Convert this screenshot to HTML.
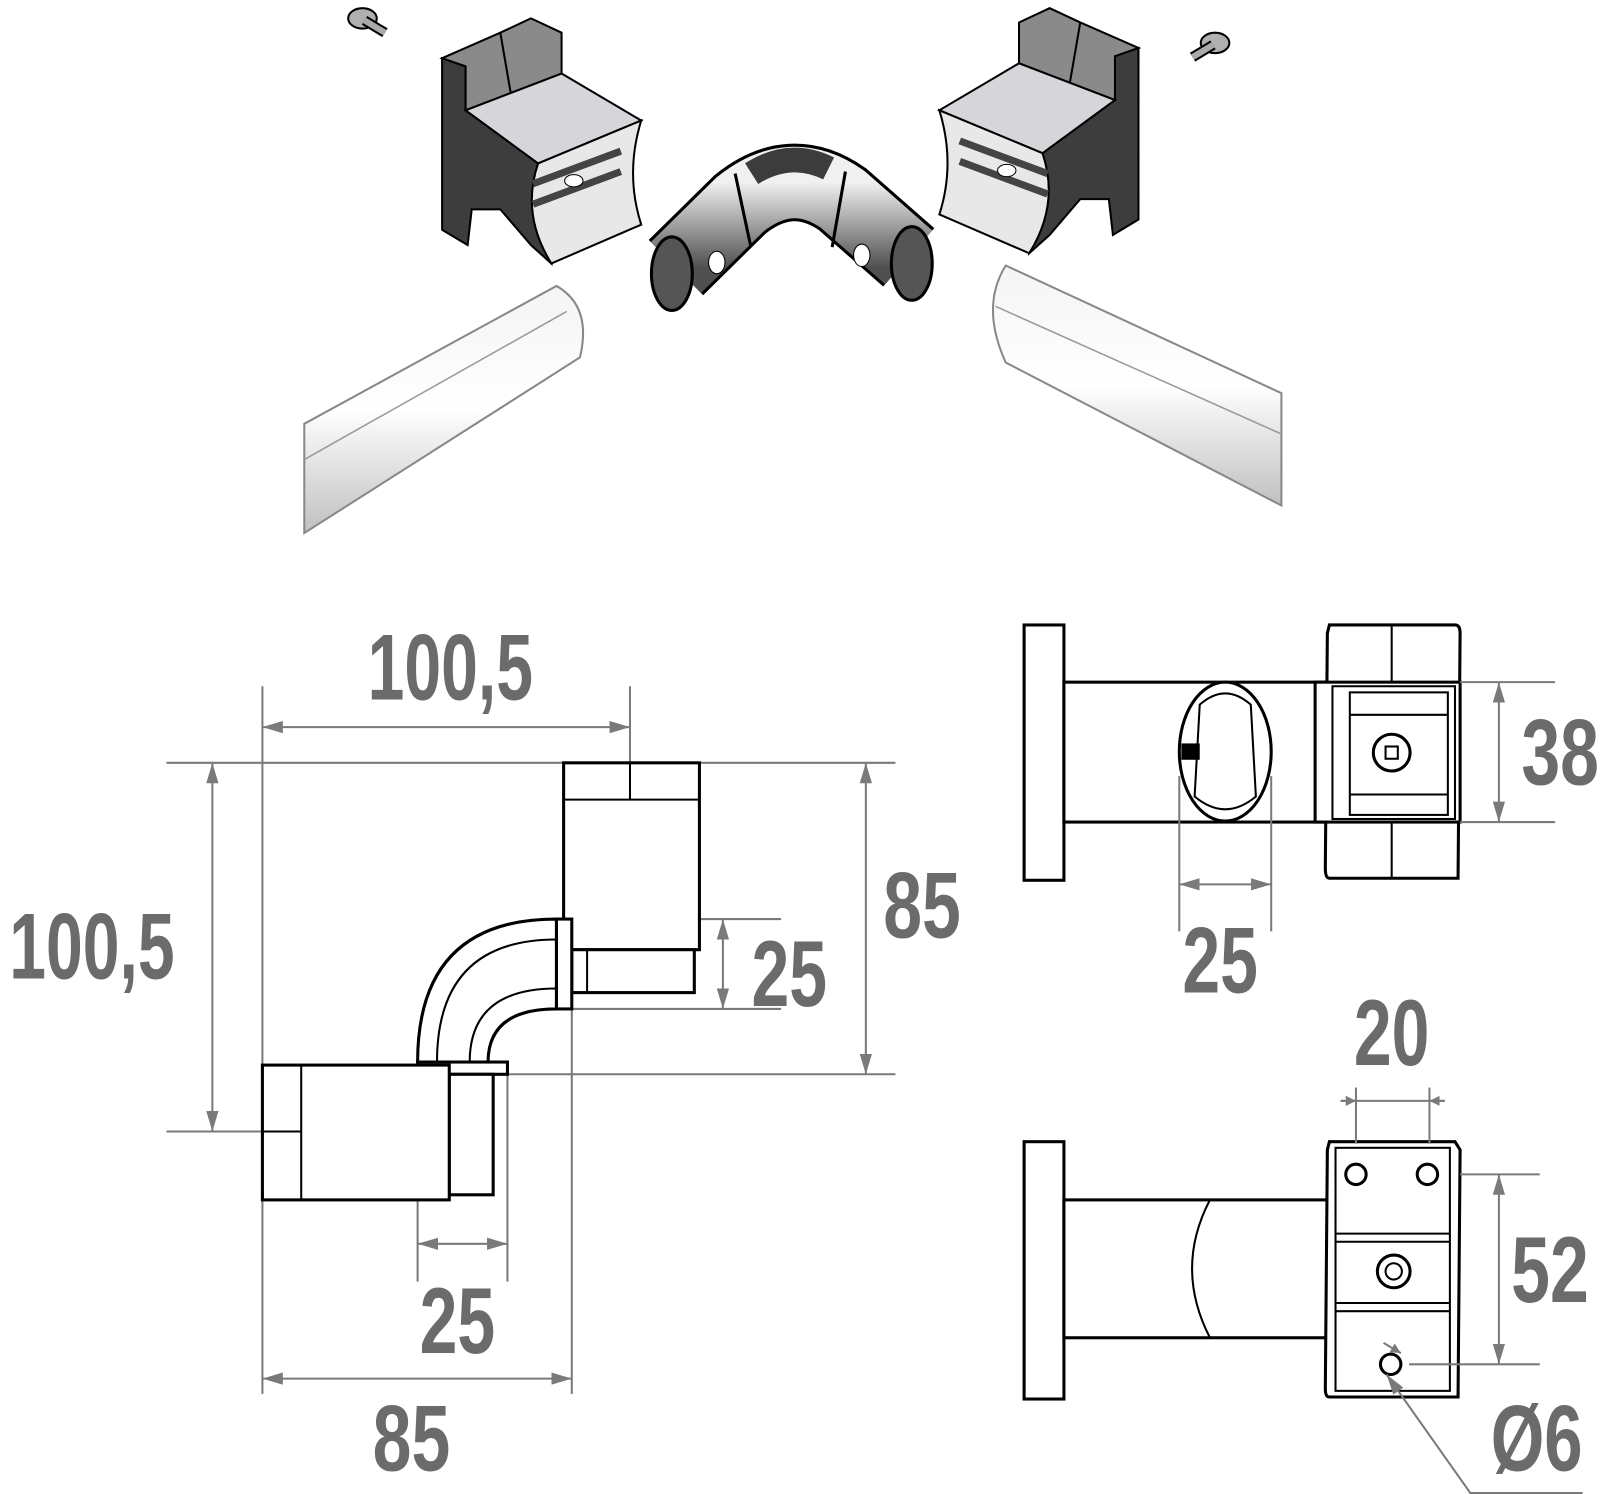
<!DOCTYPE html>
<html><head><meta charset="utf-8">
<style>html,body{margin:0;padding:0;background:#fff}svg{display:block}
.d{font-family:"Liberation Sans Narrow","Liberation Sans",sans-serif;font-weight:bold;fill:#6b6b6b;font-size:92px}
.dim{stroke:#7a7a7a;stroke-width:2;fill:none}
.k{stroke:#000;stroke-width:3;fill:#fff}
.k2{stroke:#000;stroke-width:2;fill:none}
</style></head><body>
<svg width="1601" height="1494" viewBox="0 0 1568 1463" preserveAspectRatio="none" xmlns="http://www.w3.org/2000/svg">
<defs>
<linearGradient id="tg" x1="0" y1="0" x2="0" y2="1"><stop offset="0" stop-color="#f4f4f4"/><stop offset="0.5" stop-color="#ffffff"/><stop offset="1" stop-color="#c0c0c0"/></linearGradient>
<linearGradient id="mg" x1="0" y1="0" x2="0" y2="1"><stop offset="0" stop-color="#f0f0f0"/><stop offset="1" stop-color="#505050"/></linearGradient>
<marker id="a" viewBox="0 0 10 10" refX="10" refY="5" markerWidth="10" markerHeight="10" orient="auto-start-reverse" markerUnits="userSpaceOnUse"><path d="M0,0 L10,5 L0,10z" fill="#7a7a7a"/></marker>
<marker id="b" viewBox="0 0 20 12" refX="20" refY="6" markerWidth="20" markerHeight="12" orient="auto-start-reverse" markerUnits="userSpaceOnUse"><path d="M0,0 L20,6 L0,12z" fill="#7a7a7a"/></marker>
<g id="br">
<polygon points="433,57 456,65 456,108 527,160 540,258 520,240 490,205 462,205 458,240 433,225" fill="#3d3d3d" stroke="#000" stroke-width="2"/>
<polygon points="433,57 490,32 520,18 550,32 550,72 456,108 456,65" fill="#8a8a8a" stroke="#000" stroke-width="2"/>
<line x1="490" y1="32" x2="500" y2="90" stroke="#000" stroke-width="2"/>
<polygon points="456,108 550,72 628,118 527,160" fill="#d6d6da" stroke="#000" stroke-width="2"/>
<path d="M527,160 L628,118 Q612,170 628,220 L540,258 Q510,210 527,160z" fill="#e8e8e8" stroke="#000" stroke-width="2"/>
<path d="M522,180 L608,148 M522,200 L608,168" stroke="#444" stroke-width="7"/>
<ellipse cx="562" cy="177" rx="9" ry="6" fill="#fff" stroke="#000"/>
</g>
<g id="sc"><ellipse cx="0" cy="0" rx="14" ry="10" fill="#b0b0b0" stroke="#000" stroke-width="2"/><path d="M2,2 L22,14" stroke="#000" stroke-width="10"/><path d="M2,2 L22,14" stroke="#aaa" stroke-width="6"/></g>
</defs>
<rect width="1568" height="1463" fill="#fff"/>
<use href="#br"/>
<use href="#br" transform="translate(1548,-10) scale(-1,1)"/>
<use href="#sc" transform="translate(355,18)"/>
<use href="#sc" transform="translate(1190,42) scale(-1,1)"/>
<!-- elbow -->
<path d="M662,262 L725,200 Q775,160 825,195 L890,252" stroke="#000" stroke-width="76" fill="none"/>
<path d="M662,262 L725,200 Q775,160 825,195 L890,252" stroke="url(#mg)" stroke-width="70" fill="none"/>
<path d="M662,262 L725,200 Q775,160 825,195 L890,252" pathLength="100" stroke-dasharray="0 36 28 100" stroke="#3c3c3c" stroke-width="24" fill="none" transform="translate(0,-22)"/>
<path d="M720,170 L735,240 M828,168 L815,242" stroke="#000" stroke-width="3"/>
<ellipse cx="658" cy="268" rx="20" ry="36" fill="#555" stroke="#000" stroke-width="3"/>
<ellipse cx="893" cy="258" rx="20" ry="36" fill="#555" stroke="#000" stroke-width="3"/>
<ellipse cx="702" cy="257" rx="8" ry="11" fill="#fff" stroke="#000"/>
<ellipse cx="844" cy="250" rx="8" ry="11" fill="#fff" stroke="#000"/>
<!-- tubes -->
<path d="M298,415 L545,280 Q580,300 568,350 L298,522z" fill="url(#tg)" stroke="#888" stroke-width="2"/>
<path d="M298,450 L555,305" stroke="#999" stroke-width="1.5"/>
<path d="M985,260 L1255,385 L1255,495 L985,355 Q960,300 985,260z" fill="url(#tg)" stroke="#888" stroke-width="2"/>
<path d="M975,300 L1255,425" stroke="#999" stroke-width="1.5"/>

<!-- bottom-left drawing -->
<g class="dim">
<line x1="257" y1="672" x2="257" y2="1365"/><line x1="617" y1="672" x2="617" y2="785"/>
<line x1="257" y1="712" x2="617" y2="712" marker-start="url(#b)" marker-end="url(#b)"/>
<line x1="163" y1="747" x2="877" y2="747"/><line x1="163" y1="1108" x2="300" y2="1108"/>
<line x1="208" y1="747" x2="208" y2="1108" marker-start="url(#b)" marker-end="url(#b)"/>
<line x1="440" y1="1052" x2="877" y2="1052"/>
<line x1="848" y1="747" x2="848" y2="1052" marker-start="url(#b)" marker-end="url(#b)"/>
<line x1="545" y1="900" x2="765" y2="900"/><line x1="545" y1="988" x2="765" y2="988"/>
<line x1="708" y1="900" x2="708" y2="988" marker-start="url(#b)" marker-end="url(#b)"/>
<line x1="409" y1="1040" x2="409" y2="1255"/><line x1="497" y1="1040" x2="497" y2="1255"/>
<line x1="409" y1="1218" x2="497" y2="1218" marker-start="url(#b)" marker-end="url(#b)"/>
<line x1="560" y1="988" x2="560" y2="1365"/>
<line x1="257" y1="1350" x2="560" y2="1350" marker-start="url(#b)" marker-end="url(#b)"/>
</g>
<rect x="552" y="747" width="133" height="183" class="k"/>
<line x1="552" y1="783" x2="685" y2="783" class="k2"/>
<line x1="617" y1="747" x2="617" y2="783" class="k2"/>
<rect x="560" y="930" width="120" height="42" class="k"/>
<line x1="575" y1="930" x2="575" y2="972" class="k2"/>
<path d="M545,900 Q409,900 409,1040 L478,1040 Q478,988 545,988z" class="k"/>
<path d="M545,920 Q428,920 428,1040 M545,968 Q460,968 460,1040" class="k2" stroke-width="3"/>
<rect x="545" y="900" width="15" height="88" class="k"/>
<rect x="409" y="1040" width="88" height="12" class="k"/>
<rect x="440" y="1052" width="43" height="118" class="k"/>
<rect x="257" y="1043" width="183" height="132" class="k"/>
<line x1="295" y1="1043" x2="295" y2="1175" class="k2"/>
<line x1="257" y1="1108" x2="295" y2="1108" class="k2"/>
<text class="d" x="441" y="685" text-anchor="middle" textLength="162" lengthAdjust="spacingAndGlyphs">100,5</text>
<text class="d" x="90" y="958" text-anchor="middle" textLength="162" lengthAdjust="spacingAndGlyphs">100,5</text>
<text class="d" x="903" y="918" text-anchor="middle" textLength="76" lengthAdjust="spacingAndGlyphs">85</text>
<text class="d" x="773" y="985" text-anchor="middle" textLength="74" lengthAdjust="spacingAndGlyphs">25</text>
<text class="d" x="448" y="1325" text-anchor="middle" textLength="74" lengthAdjust="spacingAndGlyphs">25</text>
<text class="d" x="403" y="1440" text-anchor="middle" textLength="76" lengthAdjust="spacingAndGlyphs">85</text>

<!-- top-right view -->
<rect x="1003" y="612" width="39" height="250" class="k"/>
<rect x="1042" y="668" width="258" height="137" class="k"/>
<path d="M1302,612 L1425,612 Q1430,612 1430,620 L1428,860 L1302,860 Q1298,860 1298,850 L1300,620z" class="k"/>
<line x1="1363" y1="612" x2="1363" y2="668" class="k2" stroke-width="3"/>
<line x1="1363" y1="805" x2="1363" y2="860" class="k2" stroke-width="3"/>
<rect x="1288" y="668" width="142" height="137" class="k"/>
<rect x="1305" y="672" width="120" height="130" class="k2"/>
<rect x="1322" y="678" width="96" height="120" class="k2"/>
<line x1="1322" y1="700" x2="1418" y2="700" class="k2"/><line x1="1322" y1="778" x2="1418" y2="778" class="k2"/>
<circle cx="1363" cy="737" r="18" class="k"/><rect x="1357" y="731" width="12" height="12" class="k2" stroke-width="3"/>
<ellipse cx="1200" cy="736" rx="45" ry="68" class="k"/>
<path d="M1175,690 Q1200,668 1225,690 L1230,780 Q1200,805 1170,780z" class="k2" stroke-width="3"/>
<rect x="1157" y="728" width="18" height="16" fill="#000"/>
<g class="dim">
<line x1="1155" y1="760" x2="1155" y2="912"/><line x1="1245" y1="760" x2="1245" y2="912"/>
<line x1="1155" y1="866" x2="1245" y2="866" marker-start="url(#b)" marker-end="url(#b)"/>
<line x1="1430" y1="668" x2="1523" y2="668"/><line x1="1430" y1="805" x2="1523" y2="805"/>
<line x1="1468" y1="668" x2="1468" y2="805" marker-start="url(#b)" marker-end="url(#b)"/>
</g>
<text class="d" x="1195" y="972" text-anchor="middle" textLength="74" lengthAdjust="spacingAndGlyphs">25</text>
<text class="d" x="1528" y="768" text-anchor="middle" textLength="76" lengthAdjust="spacingAndGlyphs">38</text>

<!-- bottom-right view -->
<rect x="1003" y="1118" width="39" height="252" class="k"/>
<rect x="1042" y="1175" width="258" height="135" class="k"/>
<path d="M1185,1175 Q1150,1242 1185,1310" class="k2" stroke-width="3"/>
<path d="M1302,1118 L1425,1118 L1430,1126 L1428,1368 L1302,1368 Q1298,1368 1298,1360 L1300,1126z" class="k"/>
<rect x="1308" y="1124" width="112" height="238" class="k2" stroke-width="3"/>
<line x1="1308" y1="1208" x2="1420" y2="1208" class="k2" stroke-width="3"/><line x1="1308" y1="1216" x2="1420" y2="1216" class="k2"/>
<line x1="1308" y1="1276" x2="1420" y2="1276" class="k2" stroke-width="3"/><line x1="1308" y1="1284" x2="1420" y2="1284" class="k2"/>
<circle cx="1328" cy="1150" r="10" class="k"/><circle cx="1398" cy="1150" r="10" class="k"/>
<circle cx="1365" cy="1245" r="16" class="k"/><circle cx="1365" cy="1245" r="8" class="k2"/>
<circle cx="1362" cy="1336" r="10" class="k"/>
<g class="dim">
<line x1="1328" y1="1065" x2="1328" y2="1120"/><line x1="1400" y1="1065" x2="1400" y2="1120"/>
<line x1="1313" y1="1078" x2="1415" y2="1078"/>
<line x1="1313" y1="1078" x2="1328" y2="1078" marker-end="url(#a)"/>
<line x1="1415" y1="1078" x2="1400" y2="1078" marker-end="url(#a)"/>
<line x1="1430" y1="1150" x2="1508" y2="1150"/><line x1="1380" y1="1336" x2="1508" y2="1336"/>
<line x1="1468" y1="1150" x2="1468" y2="1336" marker-start="url(#b)" marker-end="url(#b)"/>
<path d="M1550,1462 L1440,1462 L1358,1346" marker-end="url(#b)"/>
<path d="M1372,1325 L1355,1315" marker-start="url(#a)"/>
</g>
<text class="d" x="1363" y="1043" text-anchor="middle" textLength="74" lengthAdjust="spacingAndGlyphs">20</text>
<text class="d" x="1518" y="1275" text-anchor="middle" textLength="76" lengthAdjust="spacingAndGlyphs">52</text>
<text class="d" x="1505" y="1440" text-anchor="middle" textLength="90" lengthAdjust="spacingAndGlyphs">Ø6</text>
</svg>
</body></html>
